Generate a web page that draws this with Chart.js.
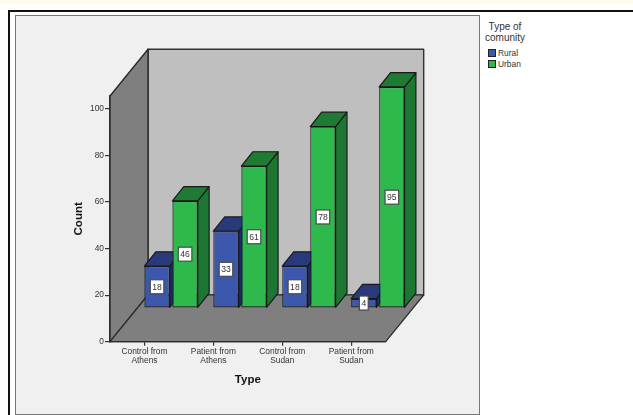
<!DOCTYPE html>
<html>
<head>
<meta charset="utf-8">
<title>Count by type and type of community</title>
<script src="https://cdn.jsdelivr.net/npm/chart.js@4/dist/chart.umd.js"></script>
<style>
  html, body { margin: 0; background: #fff; overflow: hidden; }
  body { width: 633px; height: 415px; position: relative; font-family: "Liberation Sans", Arial, sans-serif; }
  #band { position: absolute; left: 0; top: 0; width: 633px; height: 4px; background: #fffbe9; }
  #frame { position: absolute; left: 8px; top: 10px; width: 640px; height: 420px; border: 2px solid #111; box-sizing: border-box; }
  #panel { position: absolute; left: 15px; top: 15px; width: 465px; height: 400px; background: #f0f0f0; border: 1px solid #777; box-sizing: border-box; }
  #chart { position: absolute; left: 0; top: 0; }
  #legend { position: absolute; left: 480px; top: 21px; width: 50px; color: #333; }
  #legend .title { font-size: 10px; line-height: 11px; text-align: center; margin-bottom: 5px; }
  #legend .row { display: flex; align-items: center; height: 10.5px; margin-left: 8px; font-size: 8.4px; }
  #legend .swatch { width: 8px; height: 8px; border: 1px solid #222; box-sizing: border-box; margin-right: 2px; flex: none; }
</style>
</head>
<body>
<div id="band"></div>
<div id="frame"></div>
<div id="panel"></div>
<canvas id="chart" width="480" height="415"></canvas>
<div id="legend"></div>
<script>
const categories = [["Control from", "Athens"], ["Patient from", "Athens"], ["Control from", "Sudan"], ["Patient from", "Sudan"]]
const rural = [18, 33, 18, 4]
const urban = [46, 61, 78, 95]
const yTicks = [0, 20, 40, 60, 80, 100]
const legendTitle = ["Type of", "comunity"]

const FONT = '"Liberation Sans", Arial, sans-serif'
const INK = "#333"

// depth of the box (walls) and of a single bar, plus where the bars stand on the floor
const WALL_DX = 38
const WALL_DY = 46.7
const BAR_DX = 11.4
const BAR_DY = 14.3
const PLANE_DX = 26.6
const PLANE_DY = 33.7

function polygon(ctx, points, fill, stroke, lineWidth) {
  ctx.beginPath()
  points.forEach(([x, y], i) => (i ? ctx.lineTo(x, y) : ctx.moveTo(x, y)))
  ctx.closePath()
  ctx.fillStyle = fill
  ctx.fill()
  ctx.lineJoin = "round"
  ctx.lineWidth = lineWidth
  ctx.strokeStyle = stroke
  ctx.stroke()
}

const boxPlugin = {
  id: "box3d",
  beforeDatasetsDraw(chart) {
    const { ctx, chartArea: a } = chart
    const { left: l, right: r, top: t, bottom: b } = a
    ctx.save()
    polygon(ctx, [[l + WALL_DX, t - WALL_DY], [r + WALL_DX, t - WALL_DY], [r + WALL_DX, b - WALL_DY], [l + WALL_DX, b - WALL_DY]], "#bfbfbf", "#333", 1.4)
    polygon(ctx, [[l, t], [l + WALL_DX, t - WALL_DY], [l + WALL_DX, b - WALL_DY], [l, b]], "#7f7f7f", "#2a2a2a", 1.4)
    polygon(ctx, [[l, b], [l + WALL_DX, b - WALL_DY], [r + WALL_DX, b - WALL_DY], [r, b]], "#7f7f7f", "#2a2a2a", 1.2)
    ctx.restore()
  }
}

function drawPrisms(chart, index) {
  const { ctx } = chart
  const ds = chart.data.datasets[index]
  const meta = chart.getDatasetMeta(index)
  ctx.save()
  ctx.translate(PLANE_DX, -PLANE_DY)
  meta.data.forEach((el) => {
    const { x, y, base, width } = el.getProps(["x", "y", "base", "width"], true)
    const x0 = x - width / 2
    const x1 = x + width / 2
    polygon(ctx, [[x1, y], [x1 + BAR_DX, y - BAR_DY], [x1 + BAR_DX, base - BAR_DY], [x1, base]], ds.sideColor, "#1a1a1a", 1.2)
    polygon(ctx, [[x0, y], [x0 + BAR_DX, y - BAR_DY], [x1 + BAR_DX, y - BAR_DY], [x1, y]], ds.topColor, "#1a1a1a", 1.2)
  })
  meta.controller.draw()
  ctx.restore()
}

const barPlugin = {
  id: "bar3d",
  // the default pass paints the last dataset first, here green has to land over blue
  beforeDatasetDraw() {
    return false
  },
  afterDatasetsDraw(chart) {
    const { ctx } = chart
    chart.data.datasets.forEach((ds, i) => drawPrisms(chart, i))

    // value boxes sit over every bar
    ctx.save()
    ctx.font = `8.6px ${FONT}`
    ctx.textAlign = "center"
    ctx.textBaseline = "middle"
    chart.data.datasets.forEach((ds, i) => {
      chart.getDatasetMeta(i).data.forEach((el, j) => {
        const { x, y, base } = el.getProps(["x", "y", "base"], true)
        const cx = x + PLANE_DX
        const cy = (y + base) / 2 - PLANE_DY
        const text = String(ds.data[j])
        const w = ctx.measureText(text).width + 4
        const h = 14
        ctx.fillStyle = "#fff"
        ctx.strokeStyle = "#4a4a4a"
        ctx.lineWidth = 1.2
        ctx.fillRect(cx - w / 2, cy - h / 2, w, h)
        ctx.strokeRect(cx - w / 2, cy - h / 2, w, h)
        ctx.fillStyle = INK
        ctx.fillText(text, cx, cy + 0.5)
      })
    })
    ctx.restore()
  }
}

const chart = new Chart(document.getElementById("chart"), {
  type: "bar",
  data: {
    labels: categories,
    datasets: [
      {
        label: "Rural",
        data: rural,
        backgroundColor: "#3b58ad",
        sideColor: "#1c2c66",
        topColor: "#293a7c",
        borderColor: "#1a1a1a",
        borderWidth: 1.2,
        borderSkipped: false
      },
      {
        label: "Urban",
        data: urban,
        backgroundColor: "#2eb94c",
        sideColor: "#1d7631",
        topColor: "#1f7a33",
        borderColor: "#1a1a1a",
        borderWidth: 1.2,
        borderSkipped: false
      }
    ]
  },
  options: {
    responsive: false,
    animation: false,
    layout: { padding: { left: 72, right: 94.3, top: 96, bottom: 28 } },
    plugins: { legend: { display: false }, tooltip: { enabled: false } },
    datasets: { bar: { categoryPercentage: 0.813, barPercentage: 0.904 } },
    scales: {
      x: {
        afterFit(scale) { scale.height = 45.3 },
        border: { color: INK, width: 1.2 },
        grid: { offset: false, drawOnChartArea: false, drawTicks: true, tickLength: 4, color: INK, lineWidth: 1.2 },
        ticks: { autoSkip: false, maxRotation: 0, padding: 2, color: INK, font: { family: FONT, size: 8.4, lineHeight: 1.05 } },
        title: { display: true, text: "Type", color: "#111", font: { family: FONT, size: 11.5, weight: "bold" }, padding: 0 }
      },
      y: {
        min: 0,
        max: 105.6,
        afterFit(scale) { scale.width = 38 },
        afterBuildTicks(scale) { scale.ticks = yTicks.map((value) => ({ value })) },
        border: { color: INK, width: 1.2 },
        grid: { drawOnChartArea: false, drawTicks: true, tickLength: 5, color: INK, lineWidth: 1.2 },
        ticks: { padding: 1, color: INK, font: { family: FONT, size: 8.4 } },
        title: { display: true, text: "Count", color: "#111", font: { family: FONT, size: 11.5, weight: "bold" }, padding: 0 }
      }
    }
  },
  plugins: [boxPlugin, barPlugin]
})

function buildLegend(container) {
  const title = document.createElement("div")
  title.className = "title"
  title.innerHTML = legendTitle.join("<br>")
  container.appendChild(title)
  chart.data.datasets.forEach((ds) => {
    const row = document.createElement("div")
    row.className = "row"
    const swatch = document.createElement("span")
    swatch.className = "swatch"
    swatch.style.backgroundColor = ds.backgroundColor
    const label = document.createElement("span")
    label.textContent = ds.label
    row.append(swatch, label)
    container.appendChild(row)
  })
}

buildLegend(document.getElementById("legend"))
</script>
</body>
</html>
